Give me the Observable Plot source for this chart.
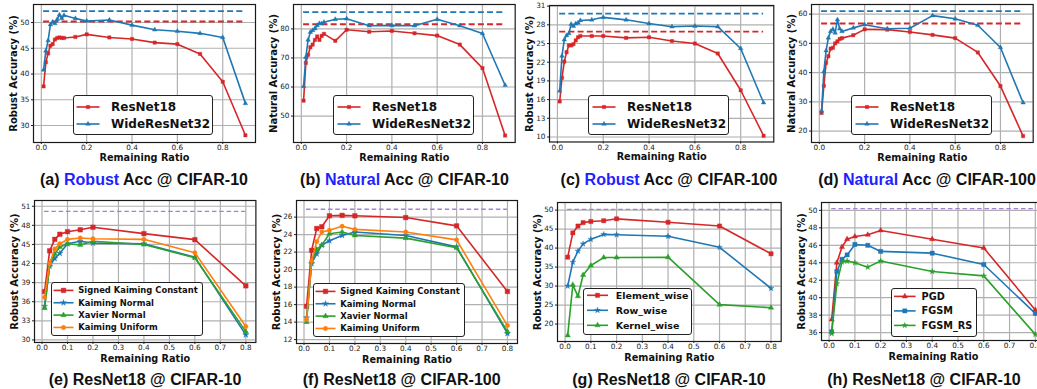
<!DOCTYPE html>
<html><head><meta charset="utf-8">
<script src="https://cdn.jsdelivr.net/npm/d3@7"></script>
<script src="https://cdn.jsdelivr.net/npm/@observablehq/plot@0.6"></script>
<style>
html,body{margin:0;padding:0;background:#fff;}
body{width:1037px;height:389px;overflow:hidden;position:relative;}
.cap{position:absolute;font-family:"Liberation Sans",Arial,sans-serif;font-weight:bold;font-size:16px;white-space:nowrap;transform:translate(-50%,-50%);color:#111;line-height:1;}
.cap .hl{color:#1f1fff;}
.leg{position:absolute;border:1.5px solid #222;border-radius:3px;background:#fff;box-sizing:border-box;}
.leg svg{position:absolute;left:-1.5px;top:-1.5px;overflow:visible;}
</style></head><body>
<script>
// ---------------- DATA ----------------
const X_TOP = [0.01,0.02,0.03,0.04,0.05,0.06,0.07,0.08,0.09,0.1,0.15,0.2,0.3,0.4,0.5,0.6,0.7,0.8,0.9];
const X_BOT = [0.01,0.03,0.05,0.07,0.1,0.15,0.2,0.4,0.6,0.8];
const TICKS_X_TOP = [0,0.2,0.4,0.6,0.8];
const TICKS_X_BOT = [0,0.1,0.2,0.3,0.4,0.5,0.6,0.7,0.8];

const NETS = ["ResNet18","WideResNet32"];
// (a) Robust Acc @ CIFAR-10
const a_resnet18 = [37.6,42.3,44.0,45.5,45.8,46.7,47.0,47.1,47.0,47.0,47.2,47.7,47.1,46.8,46.1,45.8,43.9,38.5,28.1];
const a_wrn32    = [40.8,44.5,46.5,49.6,50.1,49.8,50.6,51.5,50.8,51.4,50.8,50.3,50.5,49.5,48.6,48.3,47.9,47.1,34.3];
const a_dense    = [50.2,52.2];
const a_yticks   = [30,35,40,45,50];
// (b) Natural Acc @ CIFAR-10
const b_resnet18 = [55.3,68.3,71.1,73.7,74.6,76.2,77.4,76.2,77.6,78.3,75.9,79.7,79.0,79.3,78.5,77.7,74.6,66.5,43.3];
const b_wrn32    = [60.2,70.3,76.2,78.9,79.5,80.1,81.2,81.9,81.8,82.3,83.3,83.5,81.1,81.2,81.1,83.3,81.1,78.4,60.6];
const b_dense    = [81.6,85.8];
const b_yticks   = [50,60,70,80];
// (c) Robust Acc @ CIFAR-100
const c_resnet18 = [15.7,19.5,22.1,23.6,24.7,24.7,24.9,25.5,26.0,26.2,26.2,26.2,25.9,26.0,25.4,25.0,23.4,17.5,10.2];
const c_wrn32    = [17.4,23.0,25.6,26.3,26.6,28.1,27.8,28.2,28.3,28.7,28.8,29.2,28.8,28.2,27.7,27.8,27.7,24.2,15.5];
const c_dense    = [26.9,29.8];
const c_yticks   = [10,13,16,19,22,25,28,31];
// (d) Natural Acc @ CIFAR-100
const d_resnet18 = [26.2,35.5,43.3,45.6,48.2,48.5,50.0,50.7,51.5,51.8,52.8,54.8,54.7,53.9,52.9,51.8,46.9,35.4,18.3];
const d_wrn32    = [26.9,40.3,47.5,51.9,54.1,54.9,53.6,58.1,55.0,54.1,55.3,56.4,55.0,55.2,59.5,58.4,56.2,48.6,29.7];
const d_dense    = [56.8,61.0];
const d_yticks   = [20,30,40,50,60];

const INITS = ["Signed Kaiming Constant","Kaiming Normal","Xavier Normal","Kaiming Uniform"];
// (e) ResNet18 @ CIFAR-10
const e_skc = [37.6,44.0,45.8,46.6,47.0,47.3,47.7,46.7,45.75,38.5];
const e_kn  = [35.3,41.6,42.8,43.6,45.1,45.5,45.2,45.1,43.0,30.8];
const e_xn  = [35.0,41.8,43.5,44.6,45.1,44.9,45.5,45.0,42.9,31.3];
const e_ku  = [36.7,42.0,44.3,45.1,45.8,46.0,45.9,45.8,43.7,32.1];
const e_dense = 50.2;
const e_yticks = [30,33,36,39,42,45,48,51];
// (f) ResNet18 @ CIFAR-100
const f_skc = [15.8,22.2,24.7,24.9,26.15,26.2,26.15,25.95,25.0,17.5];
const f_kn  = [14.5,20.7,21.8,22.8,23.3,23.9,24.3,23.9,22.6,12.7];
const f_xn  = [14.0,20.9,22.3,22.8,24.1,24.3,23.9,23.6,22.5,12.9];
const f_ku  = [14.3,21.0,23.2,24.3,24.5,24.95,24.6,24.3,23.4,13.6];
const f_dense = 26.9;
const f_yticks = [12,14,16,18,20,22,24,26];

const GRAN = ["Element_wise","Row_wise","Kernel_wise"];
// (g) ResNet18 @ CIFAR-10
const g_element = [37.6,44.0,45.8,46.7,47.0,47.2,47.7,46.8,45.8,38.5];
const g_row     = [30.0,36.3,39.2,41.1,42.3,43.6,43.5,43.1,40.2,29.4];
const g_kernel  = [17.0,30.3,27.3,32.9,35.4,37.5,37.5,37.6,25.1,24.3];
const g_dense = 50.2;
const g_yticks = [20,25,30,35,40,45,50];

const ATTACKS = ["PGD","FGSM","FGSM_RS"];
// (h) ResNet18 @ CIFAR-10
const h_pgd    = [37.5,44.0,45.8,46.7,47.0,47.2,47.7,46.7,45.7,38.6];
const h_fgsm   = [36.1,43.0,44.4,44.9,46.1,46.0,45.3,45.1,43.8,38.2];
const h_fgsmrs = [35.9,41.6,44.1,44.2,44.0,43.5,44.2,43.0,42.5,35.8];
const h_dense = 50.2;
const h_yticks = [36,38,40,42,44,46,48,50];

// ---------------- STYLE ----------------
const RED="#d62728", BLUE="#1f77b4", GREEN="#2ca02c", ORANGE="#ff7f0e", PURPLE="#a67fd8";
const SYM = {square:d3.symbolSquare, triangle:d3.symbolTriangle, star:d3.symbolStar, circle:d3.symbolCircle};

function panel(p){
  const ML=36, MR=4, MT=4, MB=30;
  const [fx0,fy0,fx1,fy1] = p.frame;
  const xs = p.x;
  const marks = [
    Plot.gridX(p.xTicks,{stroke:"#b0b0b0",strokeOpacity:1,strokeWidth:1.2}),
    Plot.gridY(p.yTicks,{stroke:"#b0b0b0",strokeOpacity:1,strokeWidth:1.2})
  ];
  for (const d of p.dense){
    marks.push(Plot.ruleY([d.value],{x1:d3.min(xs),x2:d3.max(xs),stroke:d.color,strokeWidth:d.w,strokeDasharray:d.dash}));
  }
  for (const s of p.series){
    const data = xs.map((x,i)=>({x, y:s.values[i]}));
    marks.push(Plot.line(data,{x:"x",y:"y",stroke:s.color,strokeWidth:1.6}));
    marks.push(Plot.dot(data,{x:"x",y:"y",symbol:s.symbol,r:s.r,fill:s.color,stroke:s.color,strokeWidth:0.4}));
  }
  marks.push(Plot.frame({stroke:"#1a1a1a",strokeWidth:1.2}));
  marks.push(Plot.axisX(p.xTicks,{tickFormat:d3.format(".1f"),tickSize:2,tickPadding:p.xPad,fontSize:7.3,label:null}));
  marks.push(Plot.axisY(p.yTicks,{tickSize:2,tickPadding:2,fontSize:7.3,label:null}));
  marks.push(Plot.text([p.xLabel],{text:d=>d,frameAnchor:"bottom",lineAnchor:"middle",textAnchor:"middle",dy:p.xLabelDy,fontWeight:"bold",fontSize:9.7,fill:"#111"}));
  marks.push(Plot.text([p.yLabel],{text:d=>d,frameAnchor:"left",textAnchor:"middle",lineAnchor:"middle",rotate:-90,dx:-20,fontWeight:"bold",fontSize:10,fill:"#111"}));
  const svg = Plot.plot({
    width:(fx1-fx0)+ML+MR, height:(fy1-fy0)+MT+MB,
    marginLeft:ML, marginRight:MR, marginTop:MT, marginBottom:MB,
    x:{domain:p.xDomain}, y:{domain:p.yDomain},
    style:{fontFamily:"'DejaVu Sans'",fontSize:"7.3px",color:"#222",overflow:"visible",maxWidth:"none",background:"transparent"},
    marks
  });
  svg.style.position="absolute";
  svg.style.left=(fx0-ML)+"px";
  svg.style.top=(fy0-MT)+"px";
  document.body.appendChild(svg);
  legend(p.legend, p.series);
  caption(p.caption);
}

function legend(L, series){
  const div=document.createElement("div");
  div.className="leg";
  Object.assign(div.style,{left:L.left+"px",top:L.top+"px",width:L.w+"px",height:L.h+"px"});
  const svg=d3.create("svg").attr("width",L.w).attr("height",L.h);
  series.forEach((s,i)=>{
    const y=L.y0+i*L.dy;
    svg.append("line").attr("x1",L.lx0).attr("x2",L.lx1).attr("y1",y).attr("y2",y).attr("stroke",s.color).attr("stroke-width",1.6);
    svg.append("path").attr("d",d3.symbol(SYM[s.symbol],Math.PI*s.r*s.r)()).attr("transform",`translate(${(L.lx0+L.lx1)/2},${y})`).attr("fill",s.color).attr("stroke",s.color).attr("stroke-width",0.4);
    svg.append("text").attr("x",L.tx).attr("y",y).attr("dy","0.36em").text(s.label)
      .attr("font-family","DejaVu Sans").attr("font-weight","bold").attr("font-size",L.fs).attr("fill","#111");
  });
  div.appendChild(svg.node());
  document.body.appendChild(div);
}

function caption(c){
  const div=document.createElement("div");
  div.className="cap";
  div.style.left=c.cx+"px"; div.style.top=c.cy+"px";
  div.append(c.pre);
  if (c.hl){ const s=document.createElement("span"); s.className="hl"; s.textContent=c.hl; div.append(s); }
  div.append(c.post);
  document.body.appendChild(div);
}

const XDOM_TOP=[-0.0345,0.9445], XDOM_BOT=[-0.0295,0.8395];
function topPanel(frame, yDomain, yTicks, r18, wrn, dense, yLabel, cap){
  const fx0=frame[0];
  panel({
    frame, x:X_TOP, xTicks:TICKS_X_TOP, xDomain:XDOM_TOP, yDomain, yTicks, xPad:0.5, xLabelDy:15,
    xLabel:"Remaining Ratio", yLabel,
    dense:[{value:dense[0],color:RED,w:1.8,dash:"6,3.2"},{value:dense[1],color:BLUE,w:1.8,dash:"6,3.2"}],
    series:[
      {label:NETS[0],values:r18,color:RED,symbol:"square",r:1.9},
      {label:NETS[1],values:wrn,color:BLUE,symbol:"triangle",r:1.7}
    ],
    legend:{left:fx0+39.7,top:95,w:140.5,h:40,y0:12,dy:17,lx0:4.5,lx1:27.5,tx:39,fs:12},
    caption:cap
  });
}
function botPanel(frame, yDomain, yTicks, names, vals, specs, dense, leg, cap){
  panel({
    frame, x:X_BOT, xTicks:TICKS_X_BOT, xDomain:XDOM_BOT, yDomain, yTicks, xPad:0.5, xLabelDy:16.5,
    xLabel:"Remaining Ratio", yLabel:"Robust Accuracy (%)",
    dense:[{value:dense,color:PURPLE,w:1.3,dash:"4.5,2.8"}],
    series:names.map((n,i)=>({label:n,values:vals[i],...specs[i]})),
    legend:leg, caption:cap
  });
}

topPanel([33,4,255,142],[26.7,53.5],a_yticks,a_resnet18,a_wrn32,a_dense,"Robust Accuracy (%)",
  {cx:144,cy:180,pre:"(a) ",hl:"Robust",post:" Acc @ CIFAR-10"});
topPanel([293.3,4,515,142],[40.9,88.4],b_yticks,b_resnet18,b_wrn32,b_dense,"Natural Accuracy (%)",
  {cx:404.5,cy:180,pre:"(b) ",hl:"Natural",post:" Acc @ CIFAR-10"});
topPanel([548.7,4.5,773,141],[9.2,31.1],c_yticks,c_resnet18,c_wrn32,c_dense,"Robust Accuracy (%)",
  {cx:669,cy:180,pre:"(c) ",hl:"Robust",post:" Acc @ CIFAR-100"});
topPanel([811.3,4,1033,142],[16.1,63.3],d_yticks,d_resnet18,d_wrn32,d_dense,"Natural Accuracy (%)",
  {cx:927,cy:180,pre:"(d) ",hl:"Natural",post:" Acc @ CIFAR-100"});

const INIT_SPECS=[
  {color:RED,symbol:"square",r:2.6},
  {color:BLUE,symbol:"star",r:1.9},
  {color:GREEN,symbol:"triangle",r:2.0},
  {color:ORANGE,symbol:"circle",r:2.2}
];
const bigLeg = (fx0,top)=>({left:fx0+16.6,top,w:152.6,h:53.7,y0:8.4,dy:12.35,lx0:3.5,lx1:23.5,tx:28.3,fs:8.4});
botPanel([34.3,200,255.7,342],[29.6,51.9],e_yticks,INITS,[e_skc,e_kn,e_xn,e_ku],INIT_SPECS,e_dense,
  bigLeg(34.3,282.3),{cx:145,cy:380,pre:"(e) ResNet18 @ CIFAR-10",hl:"",post:""});
botPanel([296,200,517,343],[11.55,27.9],f_yticks,INITS,[f_skc,f_kn,f_xn,f_ku],INIT_SPECS,f_dense,
  bigLeg(296,283.3),{cx:401.7,cy:380,pre:"(f) ResNet18 @ CIFAR-100",hl:"",post:""});
botPanel([557.3,202,781,341],[15.4,52.0],g_yticks,GRAN,[g_element,g_row,g_kernel],
  [{color:RED,symbol:"square",r:2.4},{color:BLUE,symbol:"star",r:1.8},{color:GREEN,symbol:"triangle",r:2.0}],g_dense,
  {left:583,top:287.7,w:109.3,h:47.3,y0:8.3,dy:15,lx0:4,lx1:25,tx:32.7,fs:9.5},
  {cx:669,cy:380,pre:"(g) ResNet18 @ CIFAR-10",hl:"",post:""});
botPanel([821,202,1045,340],[35.1,50.9],h_yticks,ATTACKS,[h_pgd,h_fgsm,h_fgsmrs],
  [{color:RED,symbol:"triangle",r:2.0},{color:BLUE,symbol:"square",r:2.4},{color:GREEN,symbol:"star",r:1.8}],h_dense,
  {left:890.7,top:288.3,w:86.7,h:48.3,y0:8.4,dy:14.5,lx0:4,lx1:25.6,tx:31.6,fs:9.75},
  {cx:924,cy:380,pre:"(h) ResNet18 @ CIFAR-10",hl:"",post:""});
</script>
</body></html>
